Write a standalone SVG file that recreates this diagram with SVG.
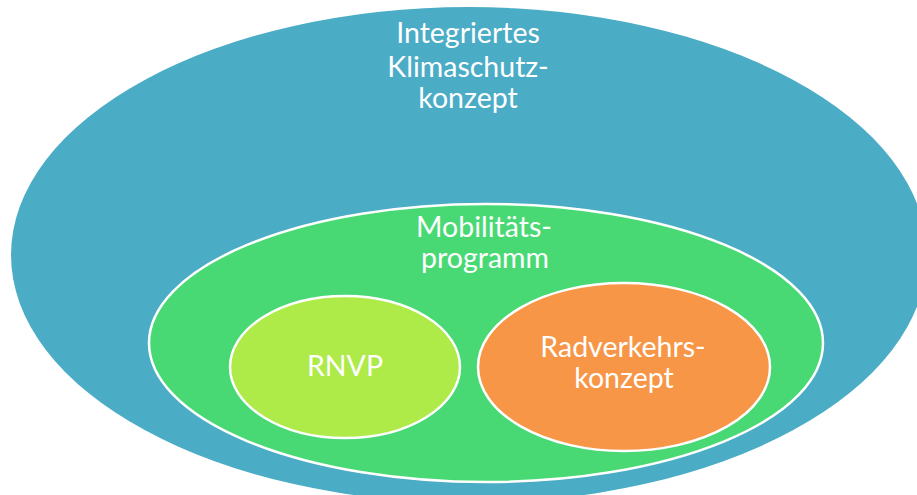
<svg xmlns="http://www.w3.org/2000/svg" width="917" height="495" viewBox="0 0 917 495">
<style>
.lbl{font-family:Lato,"Open Sans","Liberation Sans",sans-serif;font-size:28.5px;fill:#ffffff;text-anchor:middle}
.sh{stroke:#ffffff;stroke-width:2.5}
</style>
<rect width="917" height="495" fill="#ffffff"/>
<g id="klimaschutzkonzept">
<ellipse cx="469" cy="255" rx="458" ry="248" fill="#4BACC6"/>
<text class="lbl" x="468" y="43">Integriertes</text>
<text class="lbl" x="468" y="77">Klimaschutz-</text>
<text class="lbl" x="468" y="108">konzept</text>
</g>
<g id="mobilitaetsprogramm">
<ellipse class="sh" cx="486" cy="343" rx="337" ry="139" fill="#49D974"/>
<text class="lbl" x="484" y="237">Mobilitäts-</text>
<text class="lbl" x="485" y="268">programm</text>
</g>
<g id="rnvp">
<ellipse class="sh" cx="345" cy="367" rx="115" ry="71" fill="#AEEA48"/>
<text class="lbl" x="345" y="376">RNVP</text>
</g>
<g id="radverkehrskonzept">
<ellipse class="sh" cx="624" cy="367" rx="146" ry="84" fill="#F79646"/>
<text class="lbl" x="623" y="357">Radverkehrs-</text>
<text class="lbl" x="624" y="388">konzept</text>
</g>
<g id="connectors"/>
</svg>
